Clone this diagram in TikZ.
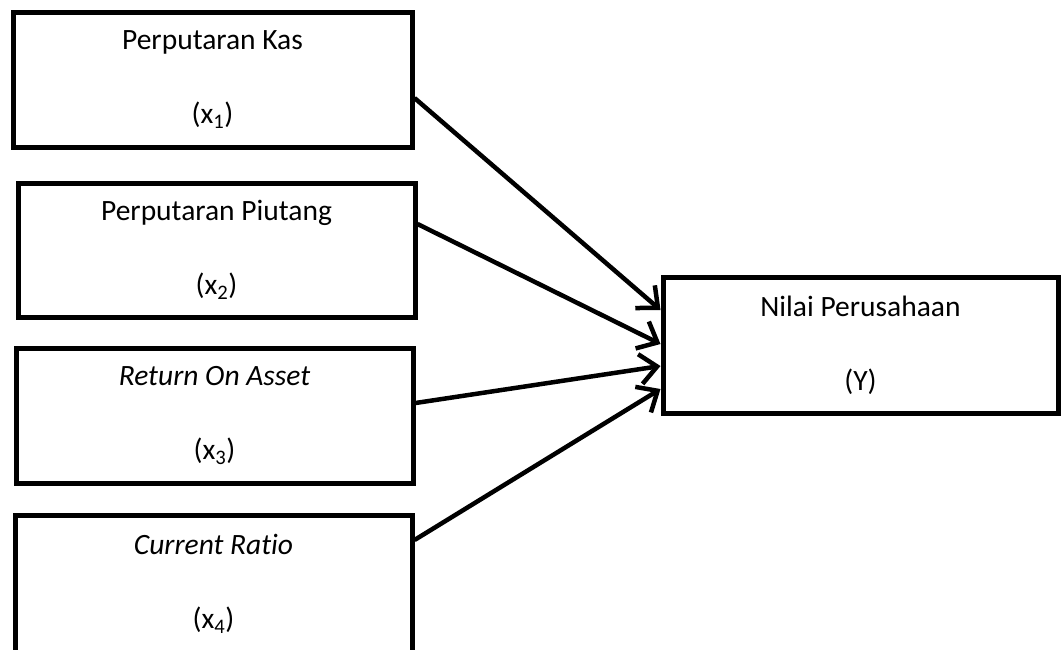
\documentclass[tikz,border=0pt]{standalone}
\usepackage{fontspec}
\setmainfont{Carlito}[Ligatures=NoCommon]
\usetikzlibrary{arrows.meta}
\begin{document}
\begin{tikzpicture}[x=1pt,y=-1pt,
  varbox/.style={draw=black,line width=5pt,fill=white,inner sep=0pt,
    minimum width=397pt,minimum height=135pt,align=center,
    font=\fontsize{29.5}{74}\selectfont},
  conn/.style={line width=4.5pt,-{Straight Barb[length=17pt,width=30pt,line width=4.5pt]}}
]
\useasboundingbox (0,0) rectangle (1064,649);
\node[varbox,minimum width=399pt] (b1) at (212.5,79.5) {Perputaran Kas\\(x\textsubscript{1})};
\node[varbox,minimum height=134pt] (b2) at (216.5,250) {Perputaran Piutang\\(x\textsubscript{2})};
\node[varbox] (b3) at (214.5,415.5) {\textit{Return On Asset}\\(x\textsubscript{3})};
\node[varbox,minimum height=137pt] (b4) at (213.5,583.5) {\textit{Current Ratio}\\(x\textsubscript{4})};
\node[varbox,minimum width=395pt,minimum height=136pt] (y) at (860.5,345) {Nilai Perusahaan\\(Y)};
\draw[conn] ([yshift=-18.5pt]b1.east) -- ([yshift=35pt]y.west);
\draw[conn] ([yshift=26pt]b2.east) -- ([yshift=1pt]y.west);
\draw[conn] ([yshift=12.5pt]b3.east) -- ([yshift=-21pt]y.west);
\draw[conn] ([yshift=43.5pt]b4.east) -- ([yshift=-44pt]y.west);
\end{tikzpicture}
\end{document}
